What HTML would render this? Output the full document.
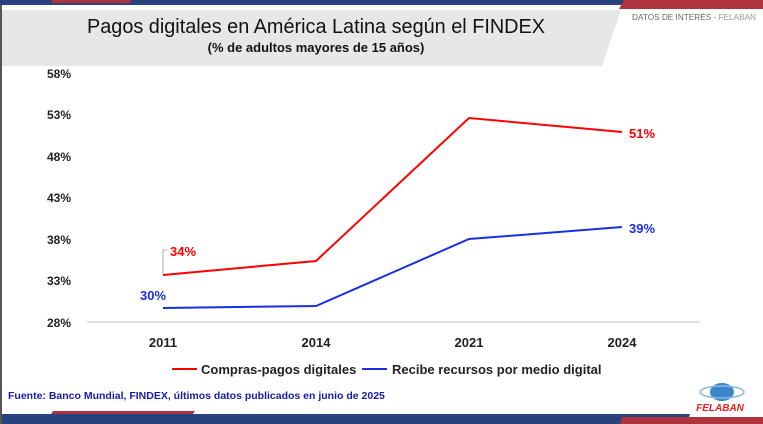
<!DOCTYPE html>
<html><head><meta charset="utf-8"><style>
body{margin:0;width:763px;height:424px;overflow:hidden;background:#fff;font-family:"Liberation Sans",sans-serif}
</style></head><body>
<svg width="763" height="424" viewBox="0 0 763 424" xmlns="http://www.w3.org/2000/svg" style="position:absolute;left:0;top:0">
<rect x="0" y="0" width="763" height="424" fill="#fff"/>
<rect x="0" y="0" width="2" height="424" fill="#555"/>
<polygon points="0,0 640,0 636,5 0,5" fill="#27427c"/>
<polygon points="52,0 131,0 130,3 51,3" fill="#b0323f"/>
<polygon points="624,0 763,0 763,9 619,9" fill="#b0323f"/>
<polygon points="2,10 621,10 602,66 2,66" fill="#e7e7e8"/>
<text x="316" y="33" text-anchor="middle" font-size="20" fill="#111" textLength="458" lengthAdjust="spacingAndGlyphs">Pagos digitales en América Latina según el FINDEX</text>
<text x="316" y="52" text-anchor="middle" font-size="13" font-weight="bold" fill="#111">(% de adultos mayores de 15 años)</text>
<text x="632" y="20" font-size="8.5" fill="#666" textLength="124" lengthAdjust="spacingAndGlyphs">DATOS DE INTERÉS - <tspan fill="#999">FELABAN</tspan></text>
<g font-size="12" font-weight="bold" fill="#222" text-anchor="end">
<text x="71" y="78">58%</text><text x="71" y="119">53%</text><text x="71" y="161">48%</text>
<text x="71" y="202">43%</text><text x="71" y="244">38%</text><text x="71" y="285">33%</text><text x="71" y="327">28%</text>
</g>
<line x1="87" y1="322" x2="700" y2="322" stroke="#d9d9d9" stroke-width="1.5"/>
<g font-size="13" font-weight="bold" fill="#222" text-anchor="middle">
<text x="163" y="347">2011</text><text x="316" y="347">2014</text><text x="469" y="347">2021</text><text x="622" y="347">2024</text>
</g>
<polyline points="163,275 316,261 469,118 622,132" fill="none" stroke="#ff0000" stroke-width="2"/>
<polyline points="163,308 316,306 469,239 622,227" fill="none" stroke="#1a2ee6" stroke-width="2"/>
<polyline points="163,274 163,250 167,250" fill="none" stroke="#aaa" stroke-width="1"/>
<text x="170" y="256" font-size="13" font-weight="bold" fill="#ff0000">34%</text>
<text x="629" y="138" font-size="13" font-weight="bold" fill="#ff0000">51%</text>
<text x="140" y="300" font-size="13" font-weight="bold" fill="#1a2ee6">30%</text>
<text x="629" y="233" font-size="13" font-weight="bold" fill="#1a2ee6">39%</text>
<line x1="172" y1="369" x2="197" y2="369" stroke="#ff0000" stroke-width="2"/>
<text x="201" y="374" font-size="13" font-weight="bold" fill="#222">Compras-pagos digitales</text>
<line x1="362" y1="369" x2="387" y2="369" stroke="#1a2ee6" stroke-width="2"/>
<text x="392" y="374" font-size="13" font-weight="bold" fill="#222">Recibe recursos por medio digital</text>
<text x="8" y="399" font-size="10.5" font-weight="bold" fill="#1a1aa8">Fuente: Banco Mundial, FINDEX, últimos datos publicados en junio de 2025</text>
<polygon points="53,411 195,411 193,414 51,414" fill="#b0323f"/>
<polygon points="2,414 690,414 687,424 2,424" fill="#27427c"/>
<polygon points="622,417 763,417 763,424 620,424" fill="#b0323f"/>
<ellipse cx="722" cy="392" rx="12" ry="9" fill="#3a86c8"/>
<ellipse cx="722" cy="392" rx="22" ry="6" fill="none" stroke="#8ab8e0" stroke-width="1.5"/>
<text x="720" y="411" font-size="10" font-weight="bold" font-style="italic" fill="#e52421" text-anchor="middle">FELABAN</text>
</svg>
</body></html>
